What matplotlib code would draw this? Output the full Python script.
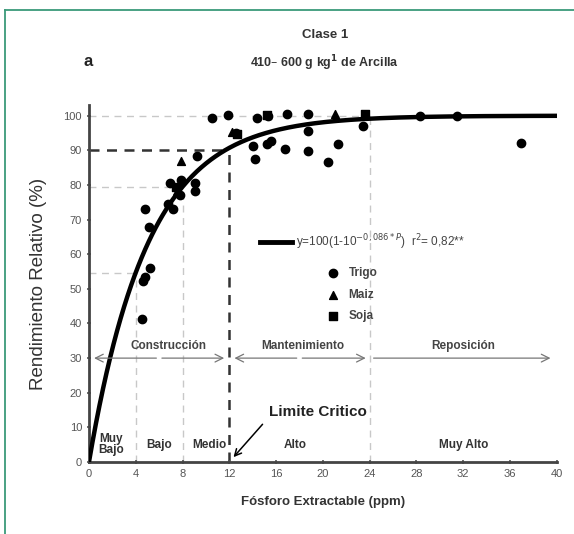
import numpy as np
import matplotlib
matplotlib.use('Agg')
import matplotlib.pyplot as plt
from matplotlib.lines import Line2D

plt.rcParams['font.family'] = ['Liberation Sans', 'DejaVu Sans']

# data: fosforo (ppm) vs rendimiento relativo (%)
trigo_p = [4.5, 4.8, 5.1, 5.2, 4.6, 4.8, 6.9, 7.9, 9.1, 9.1, 7.2, 6.8, 7.8,
           9.2, 10.5, 11.9, 14.4, 15.3, 16.9, 18.7, 18.7, 23.4, 14.0, 14.2,
           15.2, 15.6, 16.8, 18.7, 20.4, 21.3, 12.6, 28.3, 31.5, 36.9]
trigo_y = [41.2, 73.2, 68.0, 56.0, 52.4, 53.3, 80.7, 81.3, 80.7, 78.4, 73.2,
           74.6, 77.0, 88.5, 99.4, 100.3, 99.4, 100.0, 100.5, 100.5, 95.7,
           97.1, 91.3, 87.6, 91.9, 92.8, 90.5, 89.9, 86.5, 91.9, 95.1,
           100.0, 100.0, 92.2]
maiz_p = [7.9, 12.2, 21.0, 7.5]
maiz_y = [87.0, 95.4, 100.5, 78.4]
soja_p = [12.7, 23.6, 7.4, 15.2]
soja_y = [94.8, 100.5, 79.5, 100.2]

a_coef = 0.086
x_ticks = [0, 4, 8, 12, 16, 20, 24, 28, 32, 36, 40]
y_ticks = list(range(0, 101, 10))
clases = ['Muy\nBajo', 'Bajo', 'Medio', 'Alto', 'Muy Alto']
clases_x = [1.9, 6.0, 10.3, 17.6, 32.0]
etapas = ['Construcción', 'Mantenimiento', 'Reposición']
etapas_x = [6.8, 18.3, 32.0]


def curva(p):
    return 100 * (1 - 10 ** (-a_coef * p))


fig = plt.figure(figsize=(5.74, 5.34), dpi=100)
ax = fig.add_axes([0.155, 0.1348, 0.815, 0.668])

# marco verde de la pagina
fig.add_artist(Line2D([0.009, 1.0], [0.982, 0.982], color='#3a9a7a', lw=1.3))
fig.add_artist(Line2D([0.0095, 0.0095], [0.0, 0.982], color='#3a9a7a', lw=1.3))

# lineas guia
gris = '#c8c8c8'
for p in [4, 8, 24]:
    yv = curva(p) if p != 24 else 100
    ax.plot([0, p], [yv, yv], color=gris, lw=1.0, ls=(0, (5, 4)), zorder=1)
    ax.plot([p, p], [0, yv], color=gris, lw=1.0, ls=(0, (5, 4)), zorder=1)
ax.plot([0, 12], [90, 90], color='#333333', lw=1.8, ls=(0, (4, 3)), zorder=1)
ax.plot([12, 12], [0, 90], color='#333333', lw=1.8, ls=(0, (4, 3)), zorder=1)

# curva ajustada
pp = np.linspace(0, 40, 400)
ax.plot(pp, curva(pp), color='black', lw=3.2, zorder=3)

ax.scatter(trigo_p, trigo_y, marker='o', s=36, color='black', zorder=4)
ax.scatter(maiz_p, maiz_y, marker='^', s=32, color='black', zorder=4)
ax.scatter(soja_p, soja_y, marker='s', s=26, color='black', zorder=4)

# flechas de etapas
flecha = dict(arrowstyle='->', color='#777777', lw=0.9, mutation_scale=14)
ax.annotate('', xy=(0.2, 30), xytext=(6, 30), arrowprops=flecha)
ax.annotate('', xy=(11.8, 30), xytext=(6, 30), arrowprops=flecha)
ax.annotate('', xy=(12.2, 30), xytext=(18, 30), arrowprops=flecha)
ax.annotate('', xy=(23.9, 30), xytext=(18, 30), arrowprops=flecha)
ax.annotate('', xy=(39.7, 30), xytext=(24.1, 30), arrowprops=flecha)
for t, xv in zip(etapas, etapas_x):
    ax.text(xv, 33.5, t, ha='center', va='center', fontsize=8.5,
            fontweight='bold', color='#444444')

for t, xv in zip(clases, clases_x):
    ax.text(xv, 5, t, ha='center', va='center', fontsize=8.5,
            fontweight='bold', color='#333333', linespacing=0.95)

ax.text(19.6, 14.5, 'Limite Critico', ha='center', va='center',
        fontsize=11, fontweight='bold', color='#222222')
ax.annotate('', xy=(12.2, 0.8), xytext=(15.0, 11.5),
            arrowprops=dict(arrowstyle='->', color='black', lw=1.1,
                            mutation_scale=12))

# leyenda manual
ax.plot([14.6, 17.4], [63.5, 63.5], color='black', lw=3.5)
ax.text(17.7, 63.5, 'y=100(1-10$^{-0,086*P}$)  r$^2$= 0,82**', ha='left',
        va='center', fontsize=8.5, color='#444444')
ax.scatter([20.9], [54.7], marker='o', s=36, color='black')
ax.scatter([20.9], [48.3], marker='^', s=32, color='black')
ax.scatter([20.9], [42.2], marker='s', s=26, color='black')
for t, yv in zip(['Trigo', 'Maiz', 'Soja'], [54.7, 48.3, 42.2]):
    ax.text(22.2, yv, t, ha='left', va='center', fontsize=8.5,
            fontweight='bold', color='#444444')

ax.set_xlim(0, 40)
ax.set_ylim(0, 103)
ax.set_xticks(x_ticks)
ax.set_yticks(y_ticks)
ax.tick_params(axis='both', labelsize=8, colors='#555555', length=3,
               width=1.2, direction='inout')
for s in ['top', 'right']:
    ax.spines[s].set_visible(False)
for s in ['left', 'bottom']:
    ax.spines[s].set_linewidth(2)
    ax.spines[s].set_color('#444444')

ax.set_ylabel('Rendimiento Relativo (%)', fontsize=13.5, color='#333333',
              labelpad=12)
ax.set_xlabel('Fósforo Extractable (ppm)', fontsize=9.5, fontweight='bold',
              color='#333333', labelpad=12)

fig.text(0.566, 0.934, 'Clase 1', ha='center', va='center', fontsize=9.5,
         fontweight='bold', color='#333333')
fig.text(0.566, 0.882, '410– 600 g kg$^{\\mathbf{1}}$ de Arcilla', ha='center',
         va='center', fontsize=9, fontweight='bold', color='#333333')
fig.text(0.153, 0.884, 'a', ha='center', va='center', fontsize=12,
         fontweight='bold', color='#222222')

fig.savefig('out.png', dpi=100)
